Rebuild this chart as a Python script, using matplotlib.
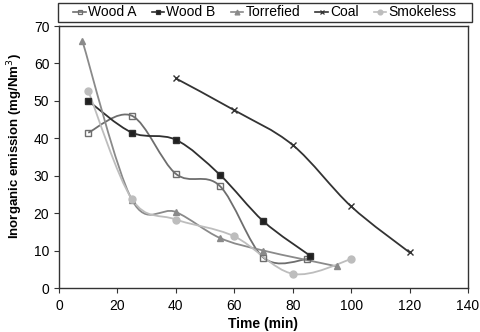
import numpy as np
import matplotlib
matplotlib.use('Agg')
import matplotlib.pyplot as plt
from matplotlib.path import Path
from matplotlib.patches import PathPatch, Rectangle

plt.rcParams['font.family'] = ['Liberation Sans', 'DejaVu Sans']

# data
wood_a_t = [10, 25, 40, 55, 70, 85]
wood_a = [41.5, 46.0, 30.5, 27.3, 8.1, 7.7]
wood_b_t = [10, 25, 40, 55, 70, 86]
wood_b = [50.0, 41.5, 39.6, 30.3, 17.8, 8.6]
torr_t = [8, 25, 40, 55, 70, 95]
torr = [66.0, 23.5, 20.3, 13.4, 10.0, 5.8]
coal_t = [40, 60, 80, 100, 120]
coal = [56.0, 47.5, 38.2, 21.8, 9.5]
smoke_t = [10, 25, 40, 60, 80, 100]
smoke = [52.7, 23.7, 18.3, 13.8, 3.8, 7.7]


def smooth_path(x, y):
    # excel-like smoothed line (bezier through the points)
    p = np.column_stack([x, y]).astype(float)
    verts = [p[0]]
    codes = [Path.MOVETO]
    n = len(p)
    for i in range(n - 1):
        p0 = p[i - 1] if i > 0 else p[i]
        p3 = p[i + 2] if i + 2 < n else p[i + 1]
        c1 = p[i] + (p[i + 1] - p0) / 6
        c2 = p[i + 1] - (p3 - p[i]) / 6
        verts += [c1, c2, p[i + 1]]
        codes += [Path.CURVE4] * 3
    return Path(verts, codes)


fig = plt.figure(figsize=(4.81, 3.32), dpi=100)
ax = fig.add_axes([59 / 481, 1 - 288 / 332, 409 / 481, 262 / 332])

series = [
    ('Wood A', wood_a_t, wood_a, '#6e6e6e', 's', 'none'),
    ('Wood B', wood_b_t, wood_b, '#303030', 's', '#202020'),
    ('Torrefied', torr_t, torr, '#8a8a8a', '^', '#8a8a8a'),
    ('Coal', coal_t, coal, '#333333', 'x', '#333333'),
    ('Smokeless', smoke_t, smoke, '#bdbdbd', 'o', '#bdbdbd'),
]

for name, t, v, c, m, fc in series:
    ax.add_patch(PathPatch(smooth_path(t, v), fill=False, edgecolor=c, lw=1.3))
    ax.plot(t, v, ls='none', marker=m, ms=5 if m != '^' else 4.5,
            mfc=fc, mec=c, mew=1.0)
    ax.plot([], [], color=c, lw=1.2, marker=m, ms=3.5, mfc=fc, mec=c,
            mew=0.9, label=name)

ax.set_xlim(0, 140)
ax.set_ylim(0, 70)
ax.set_xticks(range(0, 141, 20))
ax.set_yticks(range(0, 71, 10))
ax.tick_params(direction='out', length=3.5, labelsize=10, color='#333333')
ax.tick_params(axis='x', pad=4.5)
for s in ax.spines.values():
    s.set_color('#333333')
    s.set_linewidth(1.0)

ax.set_xlabel('Time (min)', fontsize=10, fontweight='bold', labelpad=3)
ax.set_ylabel('Inorganic emission (mg/Nm$^3$)', fontsize=9.5,
              fontweight='bold')
ax.yaxis.set_label_coords(-0.083, 0.54)

# legend box above the plot
fig.patches.append(Rectangle((58 / 481, 1 - 22 / 332), 414 / 481, 19 / 332,
                             transform=fig.transFigure, fill=False,
                             edgecolor='#333333', lw=1.0))
leg = fig.legend(*ax.get_legend_handles_labels(), loc='center',
                 bbox_to_anchor=(265 / 481, 1 - 12.5 / 332), ncol=5,
                 fontsize=10, frameon=False, borderpad=0.0,
                 handlelength=0.9, handletextpad=0.15, columnspacing=1.1)

fig.savefig('out.png', dpi=100)
